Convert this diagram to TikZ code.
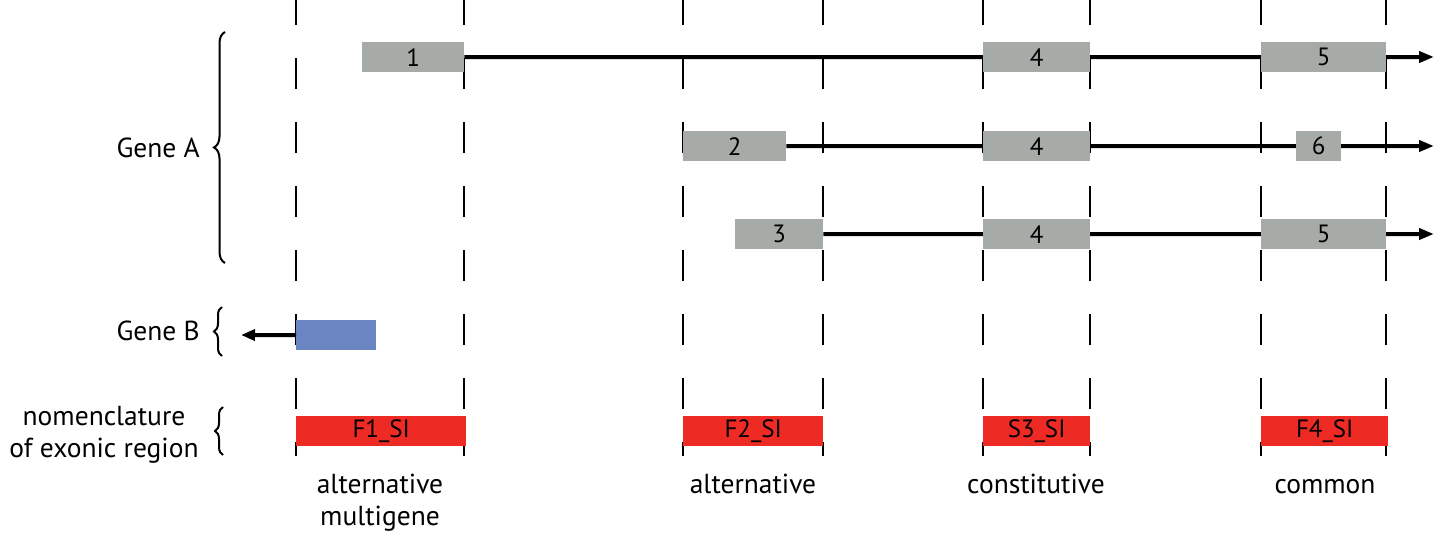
\documentclass[tikz,border=0pt]{standalone}
\usepackage{fontspec}
\setmainfont{PT Sans}
\usetikzlibrary{arrows.meta,decorations.pathreplacing,backgrounds}
\definecolor{exongray}{HTML}{A7ABA7}
\definecolor{geneblue}{HTML}{6B84C2}
\definecolor{regred}{HTML}{EE2A24}
\begin{document}
\begin{tikzpicture}[x=1pt,y=-1pt,
  txt/.style={font=\fontsize{27.5}{32}\selectfont, inner sep=0pt},
  exon/.style={fill=exongray, draw=none, minimum height=30pt, inner sep=0pt, anchor=north west, font=\fontsize{25}{28}\selectfont},
  bexon/.style={exon, fill=geneblue},
  region/.style={exon, fill=regred},
  intron/.style={line width=4pt, -{Triangle[length=15pt,width=11pt]}},
  guide/.style={line width=2.5pt, dash pattern=on 31pt off 33pt},
  bracket/.style={line width=2pt, decorate, decoration={brace, amplitude=11pt}},
]
\useasboundingbox (0,0) rectangle (1448,540);
% guide lines
\foreach \gx in {296,464,683,823,983,1090,1261,1386}
  \draw[guide] (\gx,-6) -- (\gx,456);
% exons gene A row 1
\node[exon, minimum width=102pt] (e1) at (362,42) {1};
\node[exon, minimum width=107pt] (e4a) at (983,42) {4};
\node[exon, minimum width=125pt] (e5a) at (1261,42) {5};
% row 2
\node[exon, minimum width=103pt] (e2) at (683,131) {2};
\node[exon, minimum width=107pt] (e4b) at (983,131) {4};
\node[exon, minimum width=45pt] (e6) at (1296,131) {6};
% row 3
\node[exon, minimum width=88pt] (e3) at (735,219) {3};
\node[exon, minimum width=107pt] (e4c) at (983,219) {4};
\node[exon, minimum width=125pt] (e5c) at (1261,219) {5};
% gene B
\node[bexon, minimum width=80pt] (b1) at (296,320) {};
% regions
\node[region, minimum width=170pt] (r1) at (296,416) {F1\_SI};
\node[region, minimum width=140pt] (r2) at (683,416) {F2\_SI};
\node[region, minimum width=107pt] (r3) at (983,416) {S3\_SI};
\node[region, minimum width=127pt] (r4) at (1261,416) {F4\_SI};
% arrow ends
\coordinate (t1) at (1434,57);
\coordinate (t2) at (1434,146);
\coordinate (t3) at (1434,234);
\coordinate (tb) at (241,335);
\begin{scope}[on background layer]
  \draw[intron] (e1.east) -- (t1);
  \draw[intron] (e2.east) -- (t2);
  \draw[intron] (e3.east) -- (t3);
\end{scope}
\draw[line width=4pt, -{Triangle[length=14pt,width=11pt]}] (b1.west) -- (tb);
% left labels
\node[txt, anchor=east] (ga) at (200,148) {Gene A};
\node[txt, anchor=east] (gb) at (200,331) {Gene B};
\node[txt, align=center] (nm) at (104,435) {nomenclature\\of exonic region};
\draw[bracket] (225,263) -- (225,32);
\draw[bracket, decoration={amplitude=8pt}] (222,356) -- (222,307);
\draw[bracket, decoration={amplitude=8pt}] (223,455) -- (223,407);
% bottom labels
\node[txt, align=center, anchor=north] (l1) at (380,474) {alternative\\multigene};
\node[txt, anchor=north] (l2) at (753,474) {alternative};
\node[txt, anchor=north] (l3) at (1036,474) {constitutive};
\node[txt, anchor=base] (l4) at (1325,0 |- l3.base) {common};
\end{tikzpicture}
\end{document}
